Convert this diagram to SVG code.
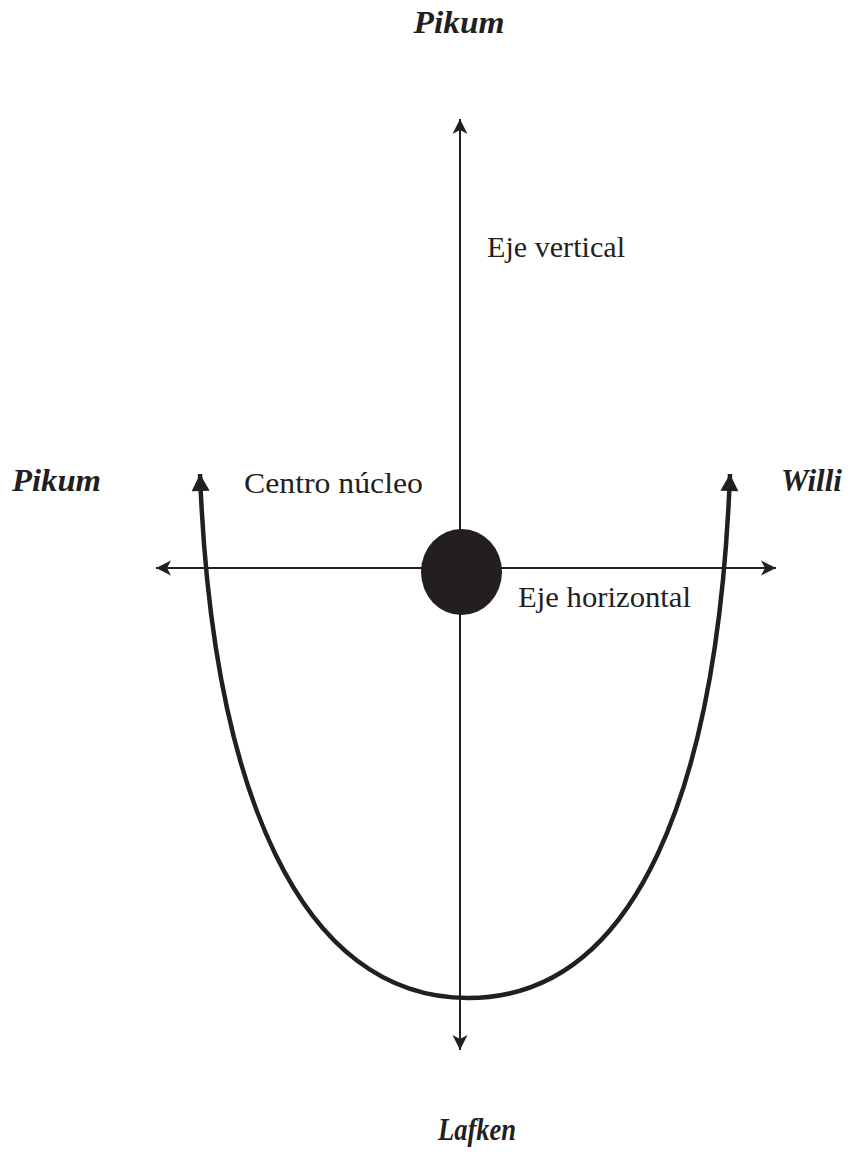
<svg xmlns="http://www.w3.org/2000/svg" width="851" height="1163" viewBox="0 0 851 1163">
<style>
.axis{fill:none;stroke:#231f20;stroke-width:2}
.curve{fill:none;stroke:#231f20;stroke-width:4.5}
.dir{font-family:"Liberation Serif",serif;font-weight:bold;font-style:italic;font-size:32px;fill:#231f20}
.lbl{font-family:"Liberation Serif",serif;font-size:30px;fill:#231f20}
</style>
<defs>
<marker id="ax" markerUnits="userSpaceOnUse" markerWidth="20" markerHeight="20" viewBox="-16 -10 20 20" refX="0" refY="0" orient="auto-start-reverse">
<path d="M0,0 L-15,-7.5 L-11,0 L-15,7.5 Z" fill="#231f20"/>
</marker>
<marker id="cv" markerUnits="userSpaceOnUse" markerWidth="24" markerHeight="24" viewBox="-18 -12 24 24" refX="0" refY="0" orient="auto-start-reverse">
<path d="M0,0 L-17,-9 L-17,9 Z" fill="#231f20"/>
</marker>
</defs>
<g id="connectors">
<line class="axis" x1="460" y1="1050" x2="460" y2="119" marker-start="url(#ax)" marker-end="url(#ax)"/>
<line class="axis" x1="156" y1="568" x2="776" y2="568" marker-start="url(#ax)" marker-end="url(#ax)"/>
<path id="curve" class="curve" d="M200,474 C212,790 300,998 468,998 C636,998 718,790 730,474" marker-start="url(#cv)" marker-end="url(#cv)"/>
</g>
<g id="nucleus">
<ellipse cx="461.5" cy="572" rx="40.5" ry="43" fill="#231f20"/>
</g>
<g id="label-top"><text class="dir" x="459" y="33" text-anchor="middle" textLength="91" lengthAdjust="spacingAndGlyphs">Pikum</text></g>
<g id="label-left"><text class="dir" x="12" y="491" textLength="89" lengthAdjust="spacingAndGlyphs">Pikum</text></g>
<g id="label-right"><text class="dir" x="781" y="491" textLength="61" lengthAdjust="spacingAndGlyphs">Willi</text></g>
<g id="label-bottom"><text class="dir" x="477" y="1140" text-anchor="middle" textLength="78" lengthAdjust="spacingAndGlyphs">Lafken</text></g>
<g id="label-vertical"><text class="lbl" x="487" y="257" textLength="138" lengthAdjust="spacingAndGlyphs">Eje vertical</text></g>
<g id="label-centro"><text class="lbl" x="244" y="493" textLength="179" lengthAdjust="spacingAndGlyphs">Centro núcleo</text></g>
<g id="label-horizontal"><text class="lbl" x="518" y="607" textLength="173" lengthAdjust="spacingAndGlyphs">Eje horizontal</text></g>
</svg>
